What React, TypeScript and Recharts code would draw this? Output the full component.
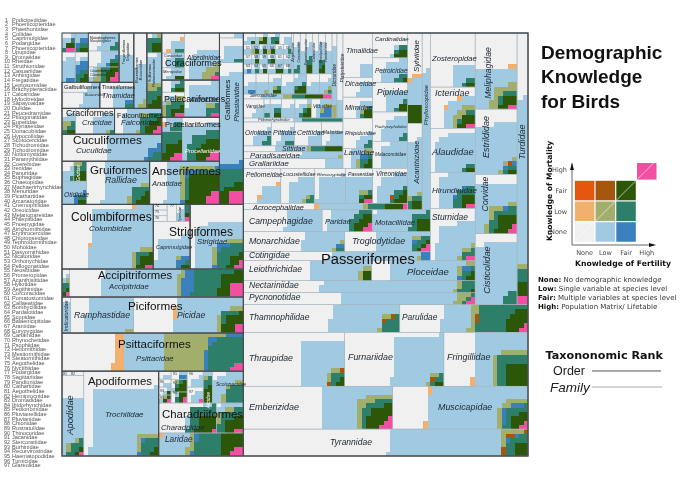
import React from 'react'
import { ScatterChart, Scatter, XAxis, YAxis, ReferenceLine } from 'recharts'

// species counts per family: name, total, then counts with known data per knowledge class
// class order: lowMort, fairMort, lowFert, lowLow, lowFair, fairFert, fairLow, fairFair, high
type Row = (string | number)[]
const passerLower: Row[] = [
  ['Tyrannidae', 389, 0, 0, 153, 8, 5, 2, 12, 9, 0],
  ['Emberizidae', 325, 0, 0, 94, 16, 0, 0, 14, 23, 6],
  ['Muscicapidae', 295, 4, 0, 173, 11, 0, 7, 12, 10, 3],
  ['Thraupidae', 277, 0, 0, 85, 4, 2, 0, 6, 3, 0],
  ['Furnariidae', 271, 0, 0, 117, 3, 1, 0, 4, 2, 0],
  ['Fringillidae', 230, 2, 0, 83, 13, 0, 0, 24, 25, 0],
  ['Thamnophilidae', 222, 0, 0, 80, 3, 2, 0, 13, 0, 0],
  ['Parulidae', 182, 0, 0, 40, 9, 2, 0, 48, 20, 3],
  ['Pycnonotidae', 141, 0, 0, 70, 6, 0, 0, 3, 0, 3],
  ['Nectariniidae', 141, 0, 0, 82, 3, 0, 0, 8, 1, 0],
  ['Leiothrichidae', 130, 0, 0, 54, 4, 0, 0, 0, 4, 0],
  ['Ploceidae', 105, 0, 0, 71, 4, 0, 3, 5, 3, 0],
  ['Cotingidae', 85, 0, 0, 40, 1, 0, 4, 0, 0, 0],
  ['Monarchidae', 103, 0, 0, 38, 2, 0, 2, 2, 0, 0],
  ['Troglodytidae', 87, 0, 0, 40, 2, 0, 1, 6, 3, 3],
  ['Campephagidae', 88, 0, 0, 40, 0, 0, 0, 0, 0, 0],
  ['Paridae', 56, 0, 0, 26, 0, 0, 0, 9, 10, 3],
  ['Motacillidae', 65, 0, 0, 46, 0, 0, 0, 9, 9, 0],
  ['Sturnidae', 119, 0, 0, 60, 4, 0, 0, 5, 0, 2],
  ['Acrocephalidae', 54, 1, 0, 14, 1, 0, 0, 6, 6, 2],
]
const passerColumns: Row[] = [
  ['Turdidae', 151, 0, 0, 93, 2, 0, 0, 8, 8, 5],
  ['Meliphagidae', 162, 2, 0, 55, 15, 0, 0, 5, 8, 2],
  ['Estrildidae', 139, 0, 0, 96, 3, 1, 2, 3, 2, 0],
  ['Corvidae', 126, 0, 0, 63, 10, 0, 1, 14, 15, 3],
  ['Cisticolidae', 151, 0, 0, 122, 0, 0, 0, 8, 0, 0],
  ['Zosteropidae', 123, 0, 0, 20, 0, 0, 0, 3, 2, 0],
  ['Icteridae', 94, 2, 0, 22, 9, 0, 0, 3, 8, 2],
  ['Alaudidae', 100, 0, 0, 72, 0, 0, 0, 3, 2, 0],
  ['Hirundinidae', 82, 0, 0, 41, 0, 0, 2, 11, 7, 2],
  ['Sylviidae', 67, 3, 0, 19, 0, 0, 0, 0, 13, 0],
  ['Acanthizidae', 64, 0, 0, 40, 2, 0, 0, 4, 4, 0],
  ['Phylloscopidae', 74, 0, 0, 58, 0, 0, 0, 0, 0, 0],
  ['Cardinalidae', 44, 0, 0, 2, 0, 0, 0, 3, 5, 0],
  ['Petroicidae', 44, 0, 0, 23, 0, 0, 0, 4, 1, 0],
  ['Pipridae', 52, 0, 0, 18, 0, 0, 0, 2, 4, 0],
  ['Pachycephalidae', 52, 0, 0, 26, 0, 0, 0, 3, 0, 0],
  ['Malaconotidae', 48, 0, 0, 34, 0, 0, 0, 0, 0, 0],
  ['Vireonidae', 62, 0, 0, 30, 0, 1, 0, 5, 6, 0],
  ['Timaliidae', 67, 0, 0, 9, 0, 0, 0, 0, 0, 0],
  ['Dicaeidae', 30, 0, 0, 11, 0, 0, 0, 0, 0, 0],
  ['Mimidae', 32, 0, 0, 6, 2, 0, 0, 2, 4, 0],
  ['Rhipiduridae', 46, 0, 0, 8, 0, 0, 0, 3, 0, 0],
  ['Laniidae', 30, 0, 0, 8, 4, 0, 2, 4, 3, 0],
  ['Pellorneidae', 66, 2, 0, 18, 0, 0, 0, 0, 0, 0],
  ['Locustellidae', 59, 0, 0, 27, 2, 0, 0, 3, 0, 0],
  ['Rhinocryptidae', 55, 0, 0, 37, 0, 0, 0, 0, 0, 0],
  ['Passeridae', 48, 0, 0, 27, 2, 0, 0, 2, 3, 2],
]
const passerSmall: Row[] = [
  ['Grallariidae', 50, 0, 0, 9, 0, 0, 0, 0, 0, 0],
  ['Paradisaeidae', 35, 0, 0, 14, 1, 0, 0, 0, 0, 0],
  ['Sittidae', 30, 0, 0, 10, 1, 0, 0, 4, 5, 0],
  ['Oriolidae', 34, 0, 0, 10, 0, 0, 0, 3, 0, 0],
  ['Pittidae', 28, 0, 0, 10, 0, 0, 0, 2, 0, 0],
  ['Cettiidae', 33, 0, 0, 8, 0, 0, 0, 0, 0, 0],
  ['Maluridae', 26, 0, 0, 10, 0, 0, 0, 0, 0, 0],
  ['Ptilonorhynchidae', 20, 0, 0, 2, 0, 0, 0, 8, 0, 0],
  ['Dicruridae', 21, 0, 0, 14, 3, 0, 0, 0, 0, 0],
  ['Platysteiridae', 26, 0, 0, 5, 0, 0, 0, 0, 0, 0],
  ['Stenostiridae', 22, 0, 0, 5, 2, 0, 0, 3, 4, 2],
  ['Vangidae', 20, 0, 0, 5, 0, 0, 0, 0, 0, 0],
  ['Bernieridae', 6, 0, 0, 3, 0, 0, 0, 1, 0, 0],
  ['Aegithalidae', 11, 0, 0, 5, 0, 0, 0, 2, 2, 0],
  ['Remizidae', 13, 0, 0, 8, 0, 0, 0, 0, 0, 0],
  ['Regulidae', 16, 0, 0, 6, 1, 0, 0, 2, 3, 0],
  ['Viduidae', 20, 0, 0, 7, 3, 0, 5, 0, 0, 0],
  ['Dulidae', 7, 0, 0, 3, 0, 0, 0, 0, 1, 0],
  ['Peucedramidae', 7, 0, 0, 2, 1, 0, 0, 0, 2, 0],
  ['Eupetidae', 7, 0, 0, 2, 0, 0, 0, 2, 1, 0],
  ['Pityriaseidae', 7, 0, 0, 3, 0, 0, 0, 0, 0, 0],
  ['Donacobiidae', 4, 0, 0, 2, 0, 0, 0, 0, 0, 0],
  ['Hypocoliidae', 4, 0, 0, 2, 1, 0, 0, 0, 1, 0],
  ['Scotocercidae', 4, 0, 0, 2, 0, 0, 0, 0, 1, 0],
  ['Tichodromidae', 4, 0, 0, 2, 1, 0, 0, 0, 1, 0],
  ['Notiomystidae', 4, 0, 0, 2, 0, 0, 0, 0, 0, 0],
  ['Paramythiidae', 4, 0, 0, 2, 0, 0, 0, 1, 0, 0],
  ['Coerebidae', 4, 0, 0, 2, 0, 0, 0, 0, 0, 0],
  ['Irenidae', 4, 0, 0, 2, 0, 0, 0, 0, 1, 0],
  ['Panuridae', 4, 0, 0, 3, 0, 0, 0, 0, 0, 0],
  ['Buphagidae', 4, 0, 0, 1, 0, 0, 0, 1, 1, 0],
  ['Chaetopidae', 4, 0, 0, 2, 0, 0, 0, 0, 0, 0],
  ['Menuridae', 4, 0, 0, 3, 0, 0, 0, 0, 0, 0],
  ['Picathartidae', 4, 0, 0, 1, 0, 0, 1, 0, 0, 0],
  ['Arcanatoridae', 4, 0, 0, 2, 0, 0, 0, 1, 0, 0],
  ['Cnemophilidae', 4, 0, 0, 2, 0, 0, 0, 0, 1, 0],
  ['Oreoicidae', 4, 0, 0, 2, 0, 0, 0, 0, 0, 0],
  ['Melanopareiidae', 4, 0, 0, 2, 0, 0, 0, 0, 2, 0],
  ['Philepittidae', 4, 0, 0, 2, 0, 0, 0, 1, 0, 0],
  ['Pnoepygidae', 4, 0, 0, 2, 0, 0, 0, 0, 0, 0],
  ['Aegithinidae', 14, 0, 0, 8, 0, 0, 0, 2, 0, 0],
  ['Corcoracidae', 12, 0, 0, 6, 0, 0, 0, 0, 0, 0],
  ['Pomatostomidae', 14, 0, 0, 5, 0, 0, 0, 2, 3, 0],
  ['Callaeatidae', 12, 0, 0, 7, 0, 0, 0, 0, 0, 0],
  ['Bombycillidae', 14, 0, 0, 6, 0, 0, 0, 2, 2, 0],
  ['Pardalotidae', 14, 0, 0, 8, 0, 0, 0, 0, 0, 0],
  ['Hyliotidae', 13, 0, 0, 5, 0, 0, 2, 0, 0, 0],
  ['Nicatoridae', 13, 0, 0, 7, 1, 0, 0, 0, 0, 0],
  ['Orthonychidae', 13, 0, 0, 6, 1, 0, 0, 1, 2, 0],
  ['Mohoidae', 13, 0, 0, 7, 0, 0, 0, 0, 0, 0],
  ['Neosittidae', 13, 0, 0, 6, 0, 0, 0, 2, 4, 0],
  ['Promeropidae', 13, 0, 0, 7, 0, 0, 0, 0, 0, 0],
  ['Acanthisittidae', 13, 0, 0, 6, 2, 0, 0, 1, 0, 0],
]
const upperOrders: Row[] = [
  ['Numididae', 6, 0, 0, 2, 0, 0, 0, 0, 0, 0],
  ['Odontophoridae', 30, 0, 0, 15, 0, 0, 0, 2, 0, 0],
  ['Phasianidae', 172, 0, 0, 110, 0, 0, 6, 20, 13, 10],
  ['Procellariidae', 83, 0, 0, 25, 0, 0, 0, 22, 18, 5],
  ['Diomedeidae', 15, 1, 0, 8, 0, 0, 0, 5, 0, 0],
  ['Hydrobatidae', 31, 0, 0, 1, 0, 0, 0, 14, 12, 4],
  ['Ardeidae', 66, 0, 0, 45, 2, 0, 0, 5, 0, 2],
  ['Threskiornithidae', 29, 0, 0, 3, 6, 0, 0, 8, 5, 2],
  ['Pelecanidae', 14, 0, 0, 3, 0, 0, 0, 4, 2, 0],
  ['Alcedinidae', 84, 0, 0, 32, 9, 0, 0, 1, 0, 2],
  ['Todidae', 23, 2, 0, 6, 0, 0, 0, 2, 0, 0],
  ['Coraciidae', 17, 0, 0, 8, 0, 0, 0, 5, 0, 0],
  ['Meropidae', 14, 0, 0, 7, 0, 0, 0, 0, 2, 0],
  ['Galbulidae', 19, 0, 0, 5, 0, 0, 0, 0, 0, 0],
  ['Bucconidae', 31, 0, 0, 15, 0, 0, 0, 0, 0, 0],
  ['Tinamidae', 45, 0, 0, 20, 0, 0, 2, 2, 0, 0],
  ['Bucerotidae', 50, 0, 0, 25, 3, 0, 0, 0, 0, 0],
  ['Trogonidae', 37, 0, 0, 20, 0, 0, 0, 0, 0, 0],
  ['Sulidae', 15, 0, 0, 1, 1, 0, 0, 6, 5, 0],
  ['Phalacrocoracidae', 42, 0, 0, 20, 5, 0, 0, 8, 6, 0],
  ['Spheniscidae', 28, 0, 0, 14, 0, 0, 0, 3, 0, 0],
  ['Musophagidae', 25, 0, 0, 10, 0, 0, 2, 2, 2, 0],
  ['Ciconiidae', 24, 0, 0, 3, 4, 0, 0, 5, 6, 3],
  ['Podicipedidae', 13, 0, 0, 4, 0, 0, 0, 2, 2, 2],
  ['Phoenicopteridae', 13, 0, 0, 5, 0, 0, 3, 3, 2, 0],
  ['Phaethontidae', 20, 0, 0, 14, 0, 0, 2, 0, 0, 0],
  ['Coliidae', 20, 0, 0, 3, 0, 0, 6, 5, 3, 0],
  ['Megapodiidae', 18, 0, 0, 5, 3, 0, 0, 4, 2, 0],
  ['Cracidae', 51, 0, 0, 20, 1, 0, 0, 1, 0, 0],
  ['Falconidae', 62, 0, 0, 25, 3, 0, 0, 10, 8, 3],
  ['Cuculidae', 137, 0, 0, 63, 0, 0, 6, 5, 0, 0],
  ['Rallidae', 138, 0, 0, 80, 4, 0, 0, 10, 6, 0],
  ['Rhynochetidae', 12, 0, 0, 6, 0, 0, 0, 1, 0, 0],
  ['Gruidae', 13, 0, 0, 0, 2, 0, 0, 5, 5, 0],
  ['Otididae', 29, 0, 0, 22, 0, 0, 3, 2, 2, 0],
  ['Anatidae', 153, 0, 0, 38, 14, 0, 6, 10, 40, 8],
]
const lowerOrders: Row[] = [
  ['Columbidae', 300, 2, 0, 173, 7, 0, 0, 5, 9, 2],
  ['Steatornithidae', 4, 0, 0, 0, 0, 0, 0, 0, 0, 0],
  ['Aegothelidae', 4, 0, 0, 0, 0, 0, 0, 0, 0, 0],
  ['Nyctibiidae', 4, 0, 0, 0, 0, 0, 0, 0, 0, 0],
  ['Podargidae', 8, 0, 0, 0, 0, 0, 0, 0, 0, 0],
  ['Tytonidae', 7, 0, 0, 4, 0, 0, 0, 0, 0, 0],
  ['Apterygidae', 5, 0, 0, 1, 0, 0, 0, 2, 1, 1],
  ['Caprimulgidae', 89, 0, 0, 45, 1, 0, 5, 1, 2, 0],
  ['Strigidae', 175, 0, 0, 70, 8, 0, 5, 20, 8, 3],
  ['Cathartidae', 11, 0, 0, 2, 1, 0, 0, 3, 2, 1],
  ['Accipitridae', 247, 0, 0, 107, 7, 0, 16, 40, 21, 10],
  ['Indicatoridae', 16, 0, 0, 14, 0, 0, 0, 0, 0, 0],
  ['Ramphastidae', 115, 0, 0, 84, 2, 0, 0, 0, 0, 0],
  ['Picidae', 201, 3, 0, 91, 7, 0, 0, 6, 15, 4],
  ['Psittacidae', 351, 19, 0, 77, 85, 0, 11, 53, 0, 5],
  ['Hemiprocnidae', 5, 0, 0, 0, 0, 0, 0, 0, 0, 0],
  ['Apodidae', 89, 0, 0, 50, 3, 0, 0, 8, 2, 1],
  ['Trochilidae', 323, 0, 0, 203, 8, 0, 2, 12, 3, 0],
  ['Laridae', 99, 2, 0, 33, 6, 0, 3, 29, 21, 5],
  ['Charadriidae', 88, 0, 0, 5, 0, 0, 0, 20, 15, 1],
  ['Burhinidae', 41, 0, 0, 7, 5, 0, 0, 15, 12, 2],
  ['Scolopacidae', 50, 0, 0, 25, 5, 0, 0, 15, 0, 0],
  ['Alcidae', 15, 0, 0, 3, 1, 0, 0, 4, 7, 0],
  ['Rostratulidae', 5, 0, 0, 2, 0, 0, 0, 0, 0, 0],
  ['Thinocoridae', 5, 0, 0, 2, 0, 0, 0, 0, 0, 0],
  ['Stercorariidae', 5, 0, 0, 2, 0, 0, 0, 0, 1, 0],
  ['Haematopodidae', 5, 0, 0, 1, 1, 0, 0, 0, 2, 1],
  ['Jacanidae', 7, 0, 0, 2, 0, 0, 2, 0, 0, 0],
  ['Recurvirostridae', 10, 0, 0, 1, 1, 0, 0, 2, 5, 0],
  ['Pedionomidae', 9, 0, 0, 1, 0, 0, 0, 1, 3, 1],
  ['Turnicidae', 13, 0, 0, 6, 0, 0, 0, 0, 0, 0],
  ['Glareolidae', 13, 0, 0, 6, 0, 0, 0, 0, 0, 1],
]

const numberedFamilies = ['Podicipedidae', 'Phoenicopteridae', 'Phaethontidae', 'Coliidae', 'Caprimulgidae', 'Podargidae', 'Phoenicopteridae', 'Upupidae', 'Dromaiidae', 'Rheidae', 'Struthionidae', 'Casuariidae', 'Anhingidae', 'Fregatidae', 'Leptosomidae', 'Brachypteraciidae', 'Calcariidae', 'Hylocitreidae', 'Sapayoaidae', 'Dulidae', 'Peucedramidae', 'Ptilogonatidae', 'Eupetidae', 'Pityriaseidae', 'Donacobiidae', 'Hypocoliidae', 'Scotocercidae', 'Tichodromidae', 'Tichodromidae', 'Notiomystidae', 'Paramythiidae', 'Coerebidae', 'Irenidae', 'Panuridae', 'Buphagidae', 'Chaetopidae', 'Machaerirhynchidae', 'Menuridae', 'Picathartidae', 'Arcanatoridae', 'Cnemophilidae', 'Oreoicidae', 'Melanopareiidae', 'Philepittidae', 'Pnoepygidae', 'Atrichornithidae', 'Erythrocercidae', 'Chloropseidae', 'Tephrodornithidae', 'Mohoidae', 'Dasyornithidae', 'Nicatoridae', 'Orthonychidae', 'Pellogonatidae', 'Neosittidae', 'Promeropidae', 'Acanthisittidae', 'Hyliotidae', 'Aegithinidae', 'Corcoracidae', 'Pomatostomidae', 'Callaeatidae', 'Bombycillidae', 'Pardalotidae', 'Scopidae', 'Balaenicipitidae', 'Aramidae', 'Eurypygidae', 'Cariamidae', 'Rhynochetidae', 'Psophiidae', 'Heliornithidae', 'Mesitornithidae', 'Steatornithidae', 'Aegothelidae', 'Nyctibiidae', 'Podargidae', 'Sagittariidae', 'Pandionidae', 'Cathartidae', 'Aegothelidae', 'Hemiprocnidae', 'Dromadidae', 'Ibidorhynchidae', 'Pedionomidae', 'Pluvianellidae', 'Pluvianidae', 'Chionidae', 'Rostratulidae', 'Thinocoridae', 'Jacanidae', 'Stercorariidae', 'Burhinidae', 'Recurvirostridae', 'Haematopodidae', 'Turnicidae', 'Glareolidae']

const classColors = ['#f2b06e', '#e4570f', '#a0cae2', '#a1ae6c', '#a5570f', '#3a80bd', '#2e7f69', '#2d5708', '#f24ea2', '#f0f0f0']
const legendCells = [
  { x: 0, y: 0, c: 9, d: true }, { x: 1, y: 0, c: 2 }, { x: 2, y: 0, c: 5 },
  { x: 0, y: 1, c: 0 }, { x: 1, y: 1, c: 3, d: true }, { x: 2, y: 1, c: 6 },
  { x: 0, y: 2, c: 1 }, { x: 1, y: 2, c: 4 }, { x: 2, y: 2, c: 7, d: true },
  { x: 3, y: 3, c: 8, d: true },
]
const legendTicks = ['None', 'Low', 'Fair', 'High']
const knowledgeNotes = [
  ['None:', ' No demographic knowledge'],
  ['Low:', ' Single variable at species level'],
  ['Fair:', ' Multiple variables at species level'],
  ['High:', ' Population Matrix/ Lifetable'],
]

// layout tree: H splits left to right, V top to bottom, O marks an order outline
type N = string | { k: string; c: N[]; o?: boolean }
const H = (...c: N[]): N => ({ k: 'h', c })
const V = (...c: N[]): N => ({ k: 'v', c })
const O = (n: N): N => (typeof n === 'string' ? { k: 'h', c: [n], o: true } : { ...n, o: true })

const passeriformes = O(V(
  H(
    V(
      H(
        V(
          H(
            V(
              H(
                V(
                  H(
                    V(
                      V(
                        H(
                          V(
                            V(
                              H(
                                V(
                                  H('Dulidae', 'Peucedramidae', 'Eupetidae', 'Pityriaseidae'),
                                  H('Donacobiidae', 'Hypocoliidae', 'Scotocercidae', 'Tichodromidae', 'Notiomystidae', 'Paramythiidae'),
                                  H('Coerebidae', 'Irenidae', 'Panuridae', 'Buphagidae', 'Chaetopidae', 'Menuridae'),
                                  H('Picathartidae', 'Arcanatoridae', 'Cnemophilidae', 'Oreoicidae', 'Melanopareiidae', 'Philepittidae'),
                                ),
                                'Pnoepygidae', 'Aegithinidae', 'Corcoracidae', 'Pomatostomidae', 'Callaeatidae', 'Bombycillidae', 'Pardalotidae',
                              ),
                              H('Hyliotidae', 'Nicatoridae', 'Orthonychidae', 'Mohoidae', 'Neosittidae', 'Promeropidae', 'Acanthisittidae'),
                              'Stenostiridae',
                              H('Vangidae', 'Bernieridae', 'Aegithalidae', 'Remizidae', 'Regulidae', 'Viduidae'),
                            ),
                          ),
                          'Dicruridae', 'Platysteiridae',
                        ),
                        'Ptilonorhynchidae',
                        H('Oriolidae', 'Pittidae', 'Cettiidae', 'Maluridae'),
                        'Sittidae', 'Paradisaeidae', 'Grallariidae',
                      ),
                    ),
                    V('Timaliidae', 'Dicaeidae', 'Mimidae', 'Rhipiduridae', 'Laniidae'),
                  ),
                  H('Pellorneidae', 'Locustellidae', 'Rhinocryptidae', 'Passeridae'),
                ),
                V('Cardinalidae', 'Petroicidae', 'Pipridae', 'Pachycephalidae', 'Malaconotidae', 'Vireonidae'),
              ),
              'Acrocephalidae',
            ),
            V('Sylviidae', 'Acanthizidae'),
            'Phylloscopidae',
          ),
          H('Campephagidae', 'Paridae', 'Motacillidae'),
          H('Monarchidae', 'Troglodytidae'),
          'Cotingidae',
        ),
        V('Zosteropidae', 'Icteridae', 'Alaudidae', 'Hirundinidae', 'Sturnidae'),
      ),
      H('Leiothrichidae', 'Ploceidae'),
      'Nectariniidae',
      'Pycnonotidae',
    ),
    V('Meliphagidae', 'Estrildidae', 'Corvidae', 'Cisticolidae'),
    'Turdidae',
  ),
  H('Thamnophilidae', 'Parulidae'),
  H('Thraupidae', 'Furnariidae', 'Fringillidae'),
  H('Emberizidae', 'Muscicapidae'),
  'Tyrannidae',
))

const leftOrders = V(
  H(
    V(
      H(
        V(
          H(
            V(
              H(
                V(H('Podicipedidae', 'Phoenicopteridae'), H('Phaethontidae', 'Coliidae')),
                O(V('Spheniscidae', 'Musophagidae', 'Ciconiidae')),
                O('Trogonidae'),
              ),
              H(O(V('Galbulidae', 'Bucconidae')), O('Tinamidae')),
            ),
            O('Bucerotidae'),
            O(V('Sulidae', 'Phalacrocoracidae')),
          ),
          H(O(H('Megapodiidae', 'Cracidae')), O('Falconidae')),
          O('Cuculidae'),
        ),
        V(
          O(H(V('Todidae', 'Coraciidae', 'Meropidae'), 'Alcedinidae')),
          O(H(V('Pelecanidae', 'Threskiornithidae'), 'Ardeidae')),
          O(H(V('Diomedeidae', 'Hydrobatidae'), 'Procellariidae')),
        ),
      ),
      H(
        O(H(V(H('Rhynochetidae', 'Gruidae'), 'Otididae'), 'Rallidae')),
        O('Anatidae'),
      ),
    ),
    O(V('Numididae', 'Odontophoridae', 'Phasianidae')),
  ),
  H(
    O('Columbidae'),
    O(V(H(V('Steatornithidae', 'Aegothelidae', 'Nyctibiidae'), 'Podargidae', 'Tytonidae', 'Apterygidae'), 'Caprimulgidae')),
    O('Strigidae'),
  ),
  O(H('Cathartidae', 'Accipitridae')),
  O(H('Indicatoridae', 'Ramphastidae', 'Picidae')),
  O('Psittacidae'),
  H(
    O(H(V('Hemiprocnidae', 'Apodidae'), 'Trochilidae')),
    O(V(
      H(
        H(
          V('Rostratulidae', 'Thinocoridae', 'Stercorariidae', 'Haematopodidae'),
          V('Jacanidae', 'Recurvirostridae', 'Pedionomidae'),
          V('Turnicidae', 'Glareolidae'),
        ),
        'Alcidae',
        'Scolopacidae',
      ),
      H('Charadriidae', 'Burhinidae'),
      'Laridae',
    )),
  ),
)
const rootTree = O(H(leftOrders, passeriformes))

// text labels: text, x, y, size, kind (o order, f family, then r for rotated, w for white)
const treeLabels: [string, number, number, number, string][] = [
  ['Passeriformes', 321, 259, 14.7, 'o'], ['Tyrannidae', 330, 442, 8.5, 'f'], ['Emberizidae', 249, 407, 9, 'f'], ['Muscicapidae', 438, 407, 8.9, 'f'],
  ['Thraupidae', 249, 358, 8.7, 'f'], ['Furnariidae', 348, 357, 8.9, 'f'], ['Fringillidae', 447, 357, 9, 'f'], ['Thamnophilidae', 249, 317, 8.5, 'f'],
  ['Parulidae', 402, 317, 8.4, 'f'], ['Pycnonotidae', 249, 297, 8.5, 'f'], ['Nectariniidae', 249, 285, 8.5, 'f'], ['Leiothrichidae', 249, 269, 8.5, 'f'],
  ['Ploceidae', 407, 271, 9.5, 'f'], ['Cisticolidae', 487, 270, 9.3, 'fr'], ['Cotingidae', 249, 255, 8.5, 'f'], ['Monarchidae', 249, 241, 8.8, 'f'],
  ['Troglodytidae', 352, 241, 8.9, 'f'], ['Campephagidae', 249, 221, 8.7, 'f'], ['Paridae', 325, 221, 7.5, 'f'], ['Motacillidae', 375, 222, 7.6, 'f'],
  ['Sturnidae', 432, 217, 8.4, 'f'], ['Corvidae', 485, 194, 8.7, 'fr'], ['Turdidae', 522, 142, 9, 'fr'], ['Estrildidae', 486, 137, 9, 'fr'],
  ['Meliphagidae', 488, 73, 8.7, 'fr'], ['Hirundinidae', 432, 190, 8, 'f'], ['Alaudidae', 432, 151, 9.4, 'f'], ['Icteridae', 435, 93, 9, 'f'],
  ['Zosteropidae', 432, 58, 7.7, 'f'], ['Sylviidae', 416, 56, 8, 'fr'], ['Phylloscopidae', 426, 105, 6, 'fr'], ['Acanthizidae', 416, 162, 7.5, 'fr'],
  ['Vireonidae', 376, 173, 6.5, 'f'], ['Passeridae', 348, 174, 5.2, 'f'], ['Rhinocryptidae', 317, 174, 4.4, 'f'], ['Locustellidae', 283, 174, 5.6, 'f'],
  ['Pellorneidae', 246, 174, 6.6, 'f'], ['Acrocephalidae', 253, 207, 7.4, 'f'], ['Cardinalidae', 375, 39, 6, 'f'], ['Petroicidae', 375, 70, 6.5, 'f'],
  ['Pipridae', 377, 92, 8.5, 'f'], ['Pachycephalidae', 375, 126, 4.2, 'f'], ['Malaconotidae', 375, 154, 4.8, 'f'], ['Timaliidae', 346, 50, 7, 'f'],
  ['Dicaeidae', 345, 83, 7, 'f'], ['Mimidae', 345, 107, 7.3, 'f'], ['Rhipiduridae', 345, 133, 5.5, 'f'], ['Laniidae', 344, 152, 8, 'f'],
  ['Oriolidae', 245, 132, 6.6, 'f'], ['Pittidae', 273, 132, 7, 'f'], ['Cettiidae', 297, 132, 7, 'f'], ['Maluridae', 323, 132, 4.6, 'f'],
  ['Sittidae', 282, 148, 7, 'f'], ['Paradisaeidae', 250, 155, 7.8, 'f'], ['Grallariidae', 249, 163, 7.8, 'f'], ['Vangidae', 246, 106, 4.5, 'f'],
  ['Viduidae', 313, 106, 5, 'f'], ['Ptilonorhynchidae', 258, 119, 4, 'f'], ['Stenostiridae', 250, 95, 4.6, 'f'], ['Dicruridae', 334, 75, 5, 'fr'],
  ['Platysteiridae', 342, 68, 4.8, 'fr'], ['Aegithinidae', 293, 52, 3.5, 'fr'], ['Corcoracidae', 299, 52, 3.5, 'fr'], ['Pomatostomidae', 306, 52, 3.5, 'fr'],
  ['Callaeatidae', 314, 52, 3.5, 'fr'], ['Bombycillidae', 321, 52, 3.5, 'fr'], ['Pardalotidae', 326, 52, 3.5, 'fr'],
  ['Coraciiformes', 165, 63, 9.2, 'o'], ['Alcedinidae', 187, 57, 6.5, 'f'], ['Coraciidae', 164, 56, 3.8, 'f'], ['Meropidae', 163, 71, 4, 'f'],
  ['Pelecaniformes', 164, 99, 8.9, 'o'], ['Ardeidae', 190, 99, 7, 'f'], ['Procellariiformes', 165, 124, 7.5, 'o'], ['Procellariidae', 185, 151, 5.8, 'fw'],
  ['Galliformes', 227, 100, 8, 'or'], ['Phasianidae', 236, 102, 7.2, 'fr'], ['Galbuliformes', 64, 87, 5.9, 'o'], ['Bucconidae', 85, 95, 3.8, 'f'],
  ['Tinamiformes', 102, 87, 5.5, 'o'], ['Tinamidae', 102, 95, 7, 'f'], ['Craciformes', 66, 113, 8.8, 'o'], ['Cracidae', 82, 122, 7.5, 'f'],
  ['Falconiformes', 117, 115, 7.3, 'o'], ['Falconidae', 121, 122, 7.8, 'f'], ['Cuculiformes', 73, 140, 11.8, 'o'], ['Cuculidae', 76, 150, 8, 'f'],
  ['Gruiformes', 90, 169, 11.6, 'o'], ['Rallidae', 105, 180, 8.8, 'f'], ['Anseriformes', 152, 170, 11.7, 'o'], ['Anatidae', 152, 183, 7.6, 'f'],
  ['Otididae', 64, 194, 6.7, 'f'], ['Gruidae', 78, 173, 4.5, 'frw'], ['Columbiformes', 71, 217, 12, 'o'], ['Columbidae', 89, 228, 8, 'f'],
  ['Strigiformes', 169, 232, 12, 'o'], ['Strigidae', 197, 241, 7.7, 'f'], ['Caprimulgidae', 156, 247, 5.6, 'f'], ['Tytonidae', 180, 214, 3.5, 'fr'],
  ['Accipitriformes', 98, 275, 11.3, 'o'], ['Accipitridae', 109, 286, 7.7, 'f'], ['Piciformes', 128, 305, 11.7, 'o'], ['Ramphastidae', 74, 315, 8.7, 'f'],
  ['Picidae', 177, 315, 8.6, 'f'], ['Indicatoridae', 66, 316, 5.4, 'fr'], ['Psittaciformes', 118, 343, 11.6, 'o'], ['Psittacidae', 136, 358, 7.7, 'f'],
  ['Apodiformes', 88, 381, 11.4, 'o'], ['Trochilidae', 105, 414, 8, 'f'], ['Apodidae', 69, 415, 9.4, 'fr'], ['Charadriiformes', 162, 414, 11.4, 'o'],
  ['Charadriidae', 161, 427, 7.6, 'f'], ['Laridae', 165, 439, 8.3, 'f'], ['Scolopacidae', 216, 384, 5, 'f'], ['Alcidae', 208, 400, 5, 'frw'],
  ['Suliformes', 150, 73, 3.8, 'or'], ['Phalacrocoracidae', 154, 73, 3.4, 'fr'], ['Bucerotiformes', 137, 70, 3.8, 'or'], ['Bucerotidae', 141, 70, 3.8, 'fr'],
  ['Trogoniformes', 124, 52, 3.8, 'or'], ['Trogonidae', 128, 52, 3.8, 'fr'], ['Ciconiiformes', 90, 71, 3.6, 'o'], ['Ciconiidae', 90, 75, 3.6, 'f'],
  ['Musophagiformes', 90, 38, 3.2, 'o'], ['Musophagidae', 90, 41, 3.2, 'f'],
  ['74', 155, 206, 3.6, 'n'], ['75', 155, 212, 3.6, 'n'], ['76', 155, 218, 3.6, 'n'], ['77', 170, 206, 3.6, 'n'],
  ['91', 173, 374, 3.6, 'n'], ['96', 189, 374, 3.6, 'n'], ['90', 160, 382, 3.6, 'n'], ['92', 173, 383, 3.6, 'n'], ['93', 160, 391, 3.6, 'n'],
  ['94', 173, 393, 3.6, 'n'], ['97', 189, 392, 3.6, 'n'], ['95', 160, 398, 3.6, 'n'], ['81', 63, 374, 3.6, 'n'], ['82', 71, 374, 3.6, 'n'],
  ['51', 246, 48, 3.4, 'n'], ['52', 254, 48, 3.4, 'n'], ['53', 262, 48, 3.4, 'n'], ['54', 270, 48, 3.4, 'n'], ['55', 278, 48, 3.4, 'n'], ['56', 286, 48, 3.4, 'n'],
  ['57', 246, 57, 3.4, 'n'], ['58', 254, 57, 3.4, 'n'], ['59', 262, 57, 3.4, 'n'], ['60', 270, 57, 3.4, 'n'], ['61', 278, 57, 3.4, 'n'], ['62', 286, 57, 3.4, 'n'],
  ['63', 246, 66, 3.4, 'n'], ['64', 254, 66, 3.4, 'n'], ['65', 262, 66, 3.4, 'n'], ['66', 270, 66, 3.4, 'n'], ['67', 278, 66, 3.4, 'n'], ['68', 286, 66, 3.4, 'n'],
]

const W = 695
const HT = 494
const SANS = '"Liberation Sans", Arial, sans-serif'
const DEJAVU = '"DejaVu Sans", sans-serif'
const CELL = 4.44
const PLOT = { x: 62, y: 33, w: 466, h: 423 }

const rowsByName: Record<string, Row> = {}
;[passerLower, passerColumns, passerSmall, upperOrders, lowerOrders].forEach(list =>
  list.forEach(r => { rowsByName[r[0] as string] = r }),
)

const sizeOf = (n: N): number =>
  typeof n === 'string' ? ((rowsByName[n] || [n, 4])[1] as number) : n.c.reduce((s, c) => s + sizeOf(c), 0)

const cellSeries: any[][] = classColors.map(() => [])
const familyBoxes: any[] = []
const orderBoxes: any[] = []

// family rectangle to grid runs, filled from the bottom right corner in rings
const addFamily = (name: string, x: number, y: number, w: number, h: number) => {
  const row = rowsByName[name] || [name, 4, 0, 0, 0, 0, 0, 0, 0, 0, 0]
  const cols = Math.max(1, Math.round(w / CELL))
  const rows = Math.max(1, Math.round(h / CELL))
  const cw = w / cols
  const ch = h / rows
  const slots: [number, number, number, number][] = []
  for (let r = 0; r < rows; r++) {
    for (let c = 0; c < cols; c++) {
      const dx = cols - 1 - c
      const dy = rows - 1 - r
      slots.push([Math.max(dx, dy), Math.min(dx, dy), r, c])
    }
  }
  slots.sort((a, b) => a[0] - b[0] || a[1] - b[1] || b[2] - a[2])
  const grid: number[][] = Array.from({ length: rows }, () => Array(cols).fill(9))
  const ratio = (cols * rows) / (row[1] as number)
  let at = 0
  for (let k = 8; k >= 0; k--) {
    const count = row[k + 2] as number
    const take = count > 0 ? Math.max(1, Math.round(count * ratio)) : 0
    for (let i = 0; i < take && at < slots.length; i++, at++) grid[slots[at][2]][slots[at][3]] = k
  }
  for (let r = 0; r < rows; r++) {
    let c = 0
    while (c < cols) {
      let e = c
      while (e + 1 < cols && grid[r][e + 1] === grid[r][c]) e++
      const rw = (e - c + 1) * cw
      cellSeries[grid[r][c]].push({ x: x + c * cw + rw / 2, y: y + r * ch + ch / 2, w: rw, h: ch })
      c = e + 1
    }
  }
  familyBoxes.push({ x: x + w / 2, y: y + h / 2, w, h })
}

const place = (n: N, x: number, y: number, w: number, h: number) => {
  if (typeof n === 'string') {
    addFamily(n, x, y, w, h)
    return
  }
  const total = sizeOf(n)
  let at = 0
  n.c.forEach(c => {
    const f = sizeOf(c) / total
    if (n.k === 'h') place(c, x + at * w, y, f * w, h)
    else place(c, x, y + at * h, w, f * h)
    at += f
  })
  if (n.o) orderBoxes.push({ x: x + w / 2, y: y + h / 2, w, h })
}
place(rootTree, PLOT.x, PLOT.y, PLOT.w, PLOT.h)

const CellShape = (fill: string) => (p: any) => (
  <rect x={p.cx - p.payload.w / 2} y={p.cy - p.payload.h / 2} width={p.payload.w} height={p.payload.h} fill={fill} shapeRendering="crispEdges" />
)
const BoxShape = (stroke: string, sw: number) => (p: any) => (
  <rect x={p.cx - p.payload.w / 2} y={p.cy - p.payload.h / 2} width={p.payload.w} height={p.payload.h} fill="none" stroke={stroke} strokeWidth={sw} />
)
const LabelShape = (p: any) => {
  const { text, size, kind } = p.payload
  const rotated = kind.includes('r')
  const order = kind.includes('o')
  return (
    <text
      x={p.cx}
      y={p.cy}
      fontFamily={SANS}
      fontSize={size}
      fontStyle={kind.includes('f') ? 'italic' : 'normal'}
      fill={kind.includes('w') ? '#fff' : order ? '#111' : '#1c2530'}
      dominantBaseline="central"
      textAnchor={rotated ? 'middle' : 'start'}
      transform={rotated ? `rotate(-90 ${p.cx} ${p.cy})` : undefined}
    >
      {text}
    </text>
  )
}
const labelData = treeLabels.map(([text, x, y, size, kind]) => ({ text, x, y, size, kind }))

const LegendCell = (p: any) => {
  const s = 19.5
  return (
    <g>
      <rect x={p.cx - s / 2} y={p.cy - s / 2} width={s} height={s} fill={classColors[p.payload.c]} />
      {p.payload.d && <line x1={p.cx - s / 2} y1={p.cy + s / 2} x2={p.cx + s / 2} y2={p.cy - s / 2} stroke="#fff" strokeWidth={0.6} />}
    </g>
  )
}

const abs = (left: number, top: number, extra: any = {}): any => ({ position: 'absolute', left, top, whiteSpace: 'nowrap', ...extra })

export default function App() {
  return (
    <div style={{ position: 'absolute', left: 0, top: 0, width: W, height: HT, overflow: 'hidden', background: '#fff', filter: 'blur(0.3px)' }}>
      <ScatterChart width={W} height={HT} margin={{ top: 0, right: 0, bottom: 0, left: 0 }} style={{ position: 'absolute', left: 0, top: 0 }}>
        <XAxis type="number" dataKey="x" domain={[0, W]} hide />
        <YAxis type="number" dataKey="y" domain={[0, HT]} reversed hide />
        {classColors.map((color, i) => (
          <Scatter key={i} data={cellSeries[i]} shape={CellShape(color)} isAnimationActive={false} />
        ))}
        <Scatter data={familyBoxes} shape={BoxShape('#a9b7c0', 0.55)} isAnimationActive={false} />
        <Scatter data={orderBoxes} shape={BoxShape('#454a4e', 1)} isAnimationActive={false} />
        <Scatter data={labelData} shape={LabelShape} isAnimationActive={false} />
        <ReferenceLine segment={[{ x: 592, y: 371 }, { x: 661, y: 371 }]} stroke="#555" strokeWidth={1.2} />
        <ReferenceLine segment={[{ x: 592, y: 387 }, { x: 662, y: 387 }]} stroke="#aaa" strokeWidth={1} />
      </ScatterChart>

      <ScatterChart width={115} height={120} margin={{ top: 0, right: 6, bottom: 0, left: 0 }} style={{ position: 'absolute', left: 545, top: 163 }}>
        <XAxis
          type="number"
          dataKey="x"
          domain={[-0.61, 3.35]}
          ticks={[0, 1, 2, 3]}
          tickFormatter={(v: number) => legendTicks[v]}
          tickLine={false}
          axisLine={{ stroke: '#666' }}
          tick={{ fontSize: 6.5, fontFamily: DEJAVU, fill: '#444', dy: -3 }}
          height={38}
          interval={0}
        />
        <YAxis
          type="number"
          dataKey="y"
          domain={[-0.63, 3.33]}
          ticks={[0, 1, 2, 3]}
          tickFormatter={(v: number) => legendTicks[v]}
          tickLine={false}
          axisLine={{ stroke: '#666' }}
          tick={{ fontSize: 6.5, fontFamily: DEJAVU, fill: '#444', dx: 3 }}
          width={27}
          interval={0}
        />
        <Scatter data={legendCells} shape={LegendCell} isAnimationActive={false} />
      </ScatterChart>

      <svg width={W} height={HT} style={{ position: 'absolute', left: 0, top: 0, pointerEvents: 'none' }}>
        <polygon points="572,163 570,170 574,170" fill="#111" />
        <polygon points="656,245 649,243 649,247" fill="#111" />
      </svg>

      {['Demographic', 'Knowledge', 'for Birds'].map((t, i) => (
        <div key={t} style={abs(541, 42 + i * 24.3, { font: `bold 19px ${SANS}`, lineHeight: '22px', color: '#111' })}>{t}</div>
      ))}
      <div style={abs(549, 191, { font: `bold 7.6px ${DEJAVU}`, color: '#111', transform: 'translate(-50%,-50%) rotate(-90deg)' })}>Knowledge of Mortality</div>
      <div style={abs(623, 263, { font: `bold 7.7px ${DEJAVU}`, color: '#111', transform: 'translate(-50%,-50%)' })}>Knowledge of Fertility</div>
      {knowledgeNotes.map(([a, b], i) => (
        <div key={a} style={abs(538, 276.5 + i * 9, { font: `7px ${DEJAVU}`, lineHeight: '7px', color: '#333' })}>
          <b style={{ color: '#111' }}>{a}</b>{b}
        </div>
      ))}
      <div style={abs(545.5, 349, { font: `bold 11.2px ${DEJAVU}`, lineHeight: '14px', color: '#111' })}>Taxononomic Rank</div>
      <div style={abs(553, 363.5, { font: `12.5px ${SANS}`, lineHeight: '15px', color: '#222' })}>Order</div>
      <div style={abs(550, 379.5, { font: `italic 13.5px ${SANS}`, lineHeight: '15px', color: '#222' })}>Family</div>

      {numberedFamilies.map((name, i) => (
        <React.Fragment key={i}>
          <div style={abs(i < 9 ? 5 : 4, 16.7 + i * 4.64, { font: `5.4px ${SANS}`, lineHeight: '6px', color: '#555' })}>{i + 1}</div>
          <div style={abs(12, 16.7 + i * 4.64, { font: `5.6px ${SANS}`, lineHeight: '6px', color: '#555' })}>{name}</div>
        </React.Fragment>
      ))}
    </div>
  )
}
